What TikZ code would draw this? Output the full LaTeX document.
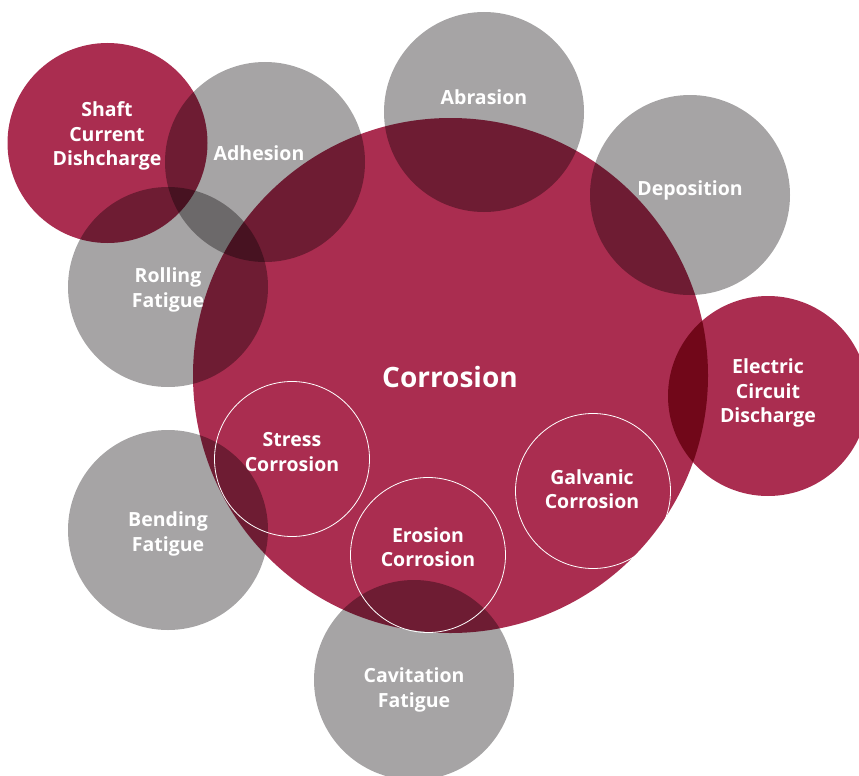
\documentclass[tikz,border=0pt]{standalone}
\usepackage{fontspec}
\setmainfont{Open Sans}[Ligatures=NoCommon]
\definecolor{wine}{RGB}{170,45,80}
\definecolor{stone}{RGB}{166,164,165}
\begin{document}
\begin{tikzpicture}[x=1pt,y=-1pt,
    bubble/.style={circle,inner sep=0pt,minimum size=200pt},
    redbubble/.style={bubble,fill=wine},
    greybubble/.style={bubble,fill=stone},
    ring/.style={circle,draw=white,line width=0.8pt,inner sep=0pt,minimum size=155pt},
    lbl/.style={text=white,font=\bfseries\fontsize{19.5}{24.5}\selectfont,align=center}]
    \useasboundingbox (0,0) rectangle (859,776);

    % filled circles, overlaps darken each other
    \begin{scope}[blend group=multiply]
        \node[redbubble,minimum size=515pt] (corr) at (450.5,375.5) {};
        \node[redbubble] (shaft) at (107.5,143) {};
        \node[greybubble] (adh) at (265,162) {};
        \node[greybubble] (abr) at (484,112) {};
        \node[greybubble] (dep) at (690,195) {};
        \node[redbubble] (elec) at (768,396) {};
        \node[greybubble] (roll) at (168,287) {};
        \node[greybubble] (bend) at (168,530) {};
        \node[greybubble] (cav) at (414,680) {};
    \end{scope}

    % outlined circles inside corrosion
    \node[ring] (stress) at (292,459) {};
    \node[ring] (eros) at (428,555) {};
    \node[ring] (galv) at (593,491) {};

    % labels
    \node[lbl,font=\bfseries\fontsize{28}{30}\selectfont] (corrlbl) at (450,377) {Corrosion};
    \node[lbl] (shaftlbl) at (107,136) {Shaft\\Current\\Dishcharge};
    \node[lbl] (adhlbl) at (259,153) {Adhesion};
    \node[lbl] (abrlbl) at (484,97) {Abrasion};
    \node[lbl] (deplbl) at (690,190) {Deposition};
    \node[lbl] (eleclbl) at (768,393) {Electric\\Circuit\\Discharge};
    \node[lbl] (rolllbl) at (168,290) {Rolling\\Fatigue};
    \node[lbl] (bendlbl) at (168,534) {Bending\\Fatigue};
    \node[lbl] (cavlbl) at (414,690) {Cavitation\\Fatigue};
    \node[lbl] (stresslbl) at (292,452) {Stress\\Corrosion};
    \node[lbl] (eroslbl) at (428,547) {Erosion\\Corrosion};
    \node[lbl] (galvlbl) at (592,489) {Galvanic\\Corrosion};
\end{tikzpicture}
\end{document}
